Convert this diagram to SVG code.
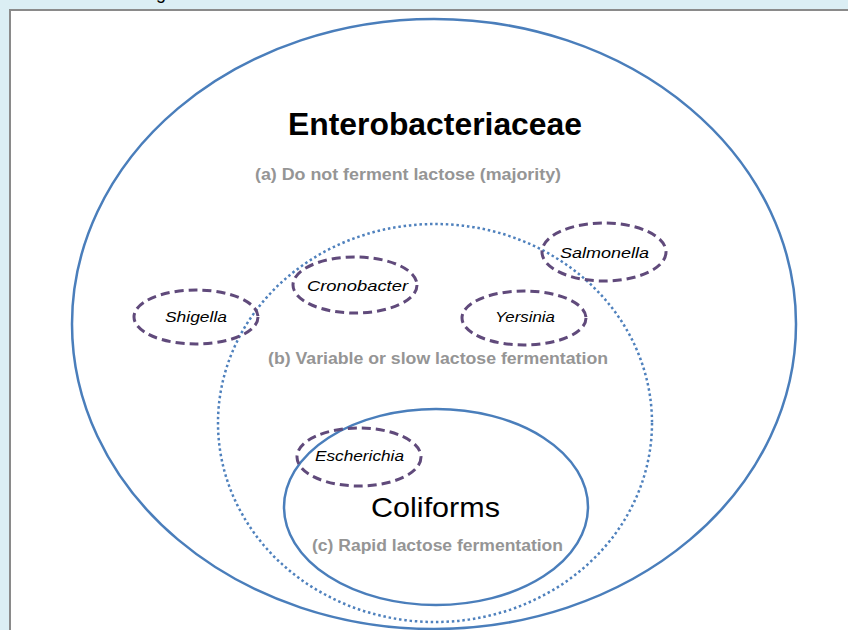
<svg xmlns="http://www.w3.org/2000/svg" width="848" height="630" viewBox="0 0 848 630">
<style>
.big{fill:none;stroke:#4a7ebb;stroke-width:2.5}
.dot{fill:none;stroke:#4f81bd;stroke-width:2.5;stroke-dasharray:2.5 2.8}
.dash{fill:none;stroke:#604a7b;stroke-width:3;stroke-dasharray:9 5}
.sp{font-family:"Liberation Sans",Arial,sans-serif;font-style:italic;font-size:15px;fill:#000}
.gray{font-family:"Liberation Sans",Arial,sans-serif;font-weight:bold;font-size:16px;fill:#959595}
</style>
<rect x="0" y="0" width="848" height="630" fill="#dbeef4"/>
<rect x="10" y="10" width="860" height="640" fill="#fff" stroke="#8a8a8a" stroke-width="2"/>
<text x="156" y="-1" font-family="Liberation Sans,Arial,sans-serif" font-size="18" fill="#000">g</text>
<g id="enterobacteriaceae">
<ellipse class="big" cx="434" cy="324" rx="362" ry="305"/>
<text x="288" y="135" font-family="Liberation Sans,Arial,sans-serif" font-weight="bold" font-size="31" textLength="294" lengthAdjust="spacingAndGlyphs" fill="#000">Enterobacteriaceae</text>
<text class="gray" x="255" y="180" textLength="306" lengthAdjust="spacingAndGlyphs">(a) Do not ferment lactose (majority)</text>
</g>
<g id="variable">
<ellipse class="dot" cx="435" cy="423" rx="217" ry="199"/>
<text class="gray" x="268" y="364" textLength="340" lengthAdjust="spacingAndGlyphs">(b) Variable or slow lactose fermentation</text>
</g>
<g id="coliforms">
<ellipse class="big" cx="436" cy="507" rx="152" ry="98"/>
<text x="371" y="517" font-family="Liberation Sans,Arial,sans-serif" font-size="28" textLength="129" lengthAdjust="spacingAndGlyphs" fill="#000">Coliforms</text>
<text class="gray" x="312" y="551" textLength="251" lengthAdjust="spacingAndGlyphs">(c) Rapid lactose fermentation</text>
</g>
<g id="salmonella">
<ellipse class="dash" cx="604" cy="252" rx="62" ry="29"/>
<text class="sp" x="560" y="258" textLength="89" lengthAdjust="spacingAndGlyphs">Salmonella</text>
</g>
<g id="cronobacter">
<ellipse class="dash" cx="355" cy="285" rx="62" ry="28"/>
<text class="sp" x="307" y="291" textLength="101" lengthAdjust="spacingAndGlyphs">Cronobacter</text>
</g>
<g id="shigella">
<ellipse class="dash" cx="196" cy="317" rx="62" ry="27"/>
<text class="sp" x="165" y="322" textLength="62" lengthAdjust="spacingAndGlyphs">Shigella</text>
</g>
<g id="yersinia">
<ellipse class="dash" cx="524" cy="318" rx="62" ry="27"/>
<text class="sp" x="495" y="322" textLength="60" lengthAdjust="spacingAndGlyphs">Yersinia</text>
</g>
<g id="escherichia">
<ellipse class="dash" cx="359" cy="457" rx="62" ry="29"/>
<text class="sp" x="315" y="461" textLength="89" lengthAdjust="spacingAndGlyphs">Escherichia</text>
</g>
<g id="connectors"/>
</svg>
